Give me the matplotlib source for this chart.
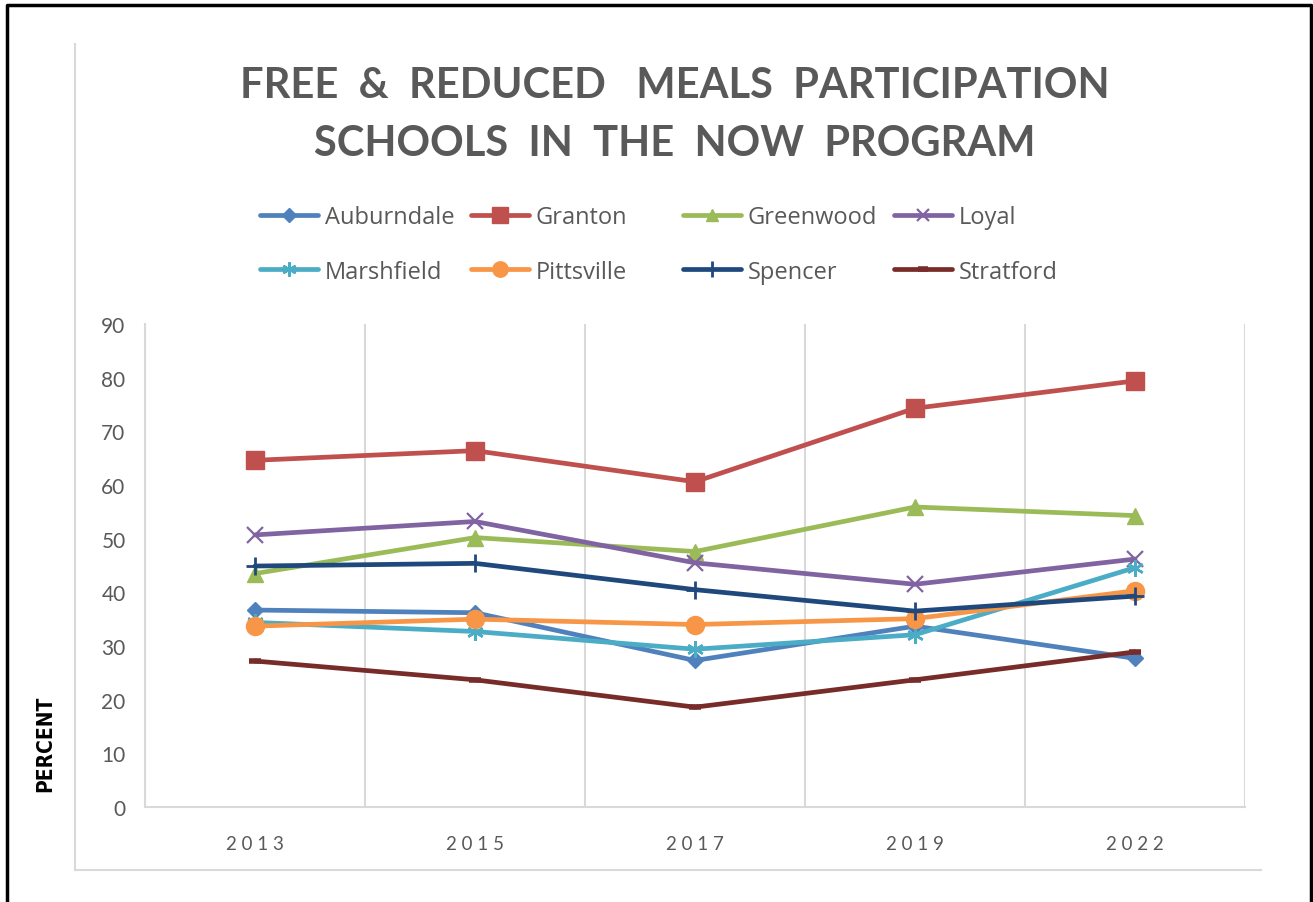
import matplotlib
matplotlib.use("Agg")
import matplotlib.pyplot as plt
from matplotlib.lines import Line2D

years = ["2013", "2015", "2017", "2019", "2022"]
auburndale = [36.7, 36.2, 27.3, 33.7, 27.7]
granton = [64.6, 66.4, 60.6, 74.3, 79.4]
greenwood = [43.5, 50.2, 47.6, 55.9, 54.3]
loyal = [50.7, 53.2, 45.5, 41.5, 46.2]
marshfield = [34.4, 32.7, 29.4, 32.1, 44.6]
pittsville = [33.7, 35.0, 34.0, 35.1, 40.3]
spencer = [44.9, 45.4, 40.5, 36.5, 39.3]
stratford = [27.2, 23.7, 18.6, 23.7, 28.9]

names = ["Auburndale", "Granton", "Greenwood", "Loyal",
         "Marshfield", "Pittsville", "Spencer", "Stratford"]
series = [auburndale, granton, greenwood, loyal,
          marshfield, pittsville, spencer, stratford]
colors = ["#4F81BD", "#C0504D", "#9BBB59", "#8064A2",
          "#4BACC6", "#F79646", "#1F497D", "#772C2A"]
markers = ["D", "s", "^", "x", (6, 2, 0), "o", "+", "_"]
msizes = [8, 13, 11, 11, 12, 13, 13, 9]
mews = [1, 1, 1, 1.6, 1.8, 1, 2, 4]

W, H = 1313, 903
fig = plt.figure(figsize=(W / 100, H / 100), dpi=100)
fig.patch.set_facecolor("white")

txtc = "#595959"
grid_c = "#D9D9D9"

ax = fig.add_axes([145 / W, 1 - 808 / H, 1100 / W, 483 / H])
x = list(range(len(years)))
handles = []
for s, n, c, m, ms, mw in zip(series, names, colors, markers, msizes, mews):
    h, = ax.plot(x, s, color=c, lw=3.4, marker=m, markersize=ms,
                 markeredgewidth=mw, markeredgecolor=c, markerfacecolor=c,
                 label=n, solid_capstyle="round", zorder=3)
    handles.append(h)

ax.set_xlim(-0.5, len(years) - 0.5)
ax.set_ylim(0, 90)
ax.set_yticks(range(0, 91, 10))
ax.set_xticks(x)
ax.set_xticklabels([" ".join(y) for y in years])
for b in [i + 0.5 for i in range(-1, len(years))]:
    ax.axvline(b, color=grid_c, lw=1.5, zorder=1)
for sp in ["top", "right"]:
    ax.spines[sp].set_visible(False)
for sp in ["left", "bottom"]:
    ax.spines[sp].set_color(grid_c)
    ax.spines[sp].set_linewidth(1.5)
ax.tick_params(axis="both", length=0, colors=txtc)
ax.tick_params(axis="y", pad=14, labelsize=15)
ax.tick_params(axis="x", pad=20, labelsize=13.5)
for lab in ax.get_yticklabels() + ax.get_xticklabels():
    lab.set_fontfamily("Lato")
    lab.set_color(txtc)

# Title
fig.text(675 / W, 1 - 86 / H, "FREE  &  REDUCED   MEALS  PARTICIPATION",
         ha="center", va="center", fontsize=30, fontweight="bold",
         family="Lato", color=txtc)
fig.text(675 / W, 1 - 144 / H, "SCHOOLS  IN  THE  NOW  PROGRAM",
         ha="center", va="center", fontsize=30, fontweight="bold",
         family="Lato", color=txtc)

# Legend: 4 columns of 2 rows
col_x = [260, 471, 683, 894]
for i in range(4):
    hs = [handles[i], handles[i + 4]]
    leg = fig.legend(handles=hs, labels=[h.get_label() for h in hs],
                     loc="upper left",
                     bbox_to_anchor=(col_x[i] / W, 1 - 206 / H),
                     frameon=False, prop={"family": "Open Sans", "size": 17},
                     handlelength=2.45, handletextpad=0.3, labelspacing=1.3,
                     borderaxespad=0, borderpad=0, markerscale=0.85)
    for t in leg.get_texts():
        t.set_color(txtc)

# Y label
fig.text(45 / W, 1 - 744 / H, "PERCENT", rotation=90, ha="center",
         va="center", fontsize=15, fontweight="bold", family="DejaVu Sans",
         fontstretch="condensed", color="black")

# Chart frame (light gray) and outer black border
fig.add_artist(Line2D([75 / W, 75 / W], [1 - 45 / H, 1 - 871 / H],
                      transform=fig.transFigure, color=grid_c, lw=1.5))
fig.add_artist(Line2D([75 / W, 1261 / W], [1 - 871 / H, 1 - 871 / H],
                      transform=fig.transFigure, color=grid_c, lw=1.5))
fig.add_artist(Line2D([7 / W, 7 / W, 1311 / W, 1311 / W],
                      [0, 1 - 6 / H, 1 - 6 / H, 0],
                      transform=fig.transFigure, color="black", lw=2.5))

fig.savefig("out.png", dpi=100)
